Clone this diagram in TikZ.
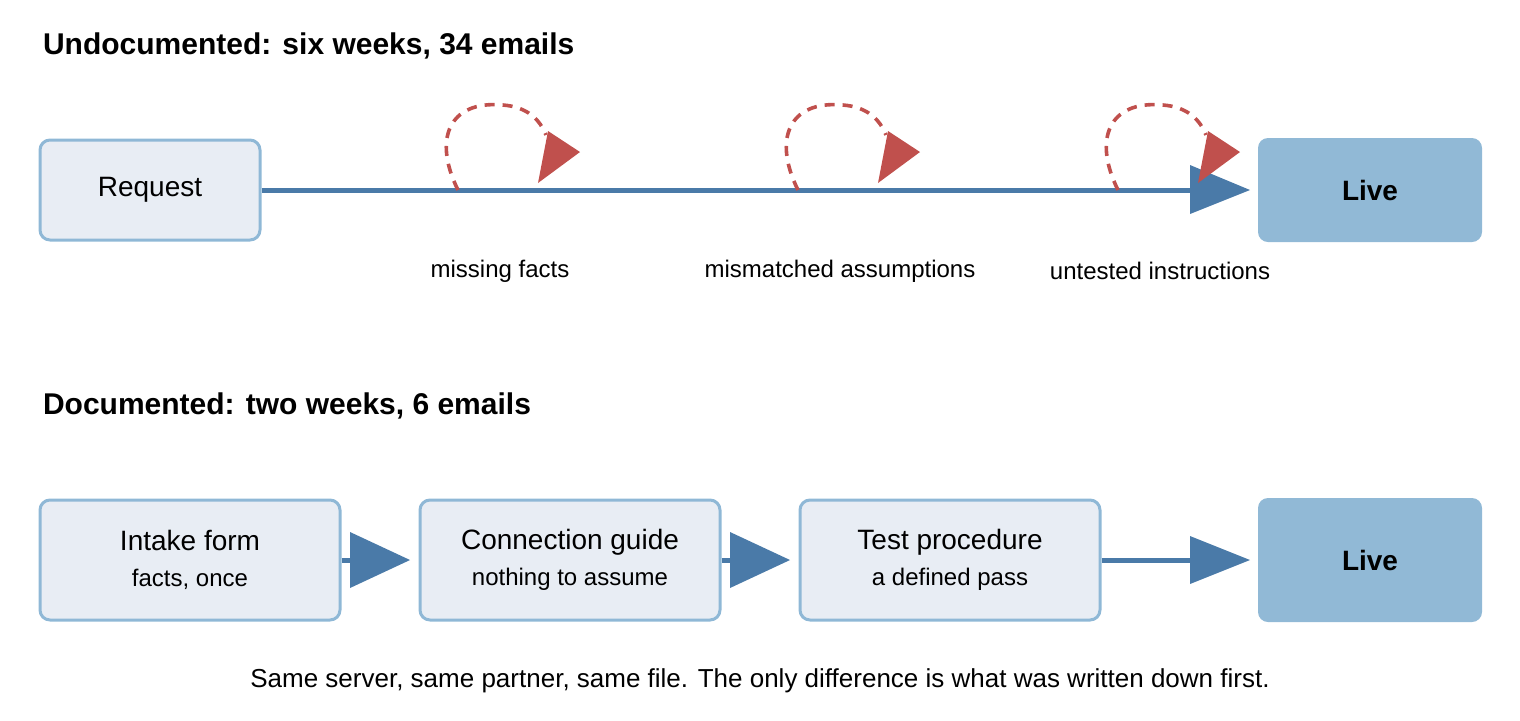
\documentclass[tikz,border=0pt]{standalone}
\usepackage{fontspec}
\setmainfont{Liberation Sans}
\begin{document}
\begin{tikzpicture}[x=0.5pt,y=-0.5pt,
  box/.style={draw=bd,fill=lf,line width=1.5pt,rounded corners=5pt,font=\fontsize{14}{16}\selectfont,align=center,inner sep=0pt},
  live/.style={fill=dk,rounded corners=5pt,font=\bfseries\fontsize{14}{16}\selectfont,inner sep=0pt},
  flow/.style={draw=bl,line width=2.5pt},
  tip/.style={fill=bl},
  loop/.style={draw=rd,line width=1.8pt,dash pattern=on 5pt off 4pt},
  lbl/.style={font=\fontsize{12}{14}\selectfont},
  ttl/.style={font=\bfseries\fontsize{15}{18}\selectfont,anchor=west}]
\definecolor{bd}{HTML}{8FB8D6}\definecolor{lf}{HTML}{E8EDF4}\definecolor{dk}{HTML}{91B9D6}
\definecolor{bl}{HTML}{4A7AA8}\definecolor{rd}{HTML}{C0504D}
\useasboundingbox (0,0) rectangle (1520,720);
\node[ttl] at (36,46) {Undocumented: six weeks, 34 emails};
\node[ttl] at (36,406) {Documented: two weeks, 6 emails};
\node[box,minimum width=110pt,minimum height=50pt] (req) at (150,190) {Request};
\node[live,minimum width=112pt,minimum height=52pt] (live1) at (1370,190) {Live};
\coordinate (e1) at (1192,190);
\draw[flow] (req.east) -- (e1);
\fill[tip] (1250,190) -- (1190,165) -- (1190,214) -- cycle;
\foreach \s in {458,798,1118}{
  \draw[loop] (\s,190) .. controls (\s-25,140) and (\s-10,100) .. (\s+45,105) .. controls (\s+70,107) and (\s+82,120) .. (\s+88,135);
  \fill[rd] (\s+122,152) -- (\s+90,131) -- (\s+80,183) -- cycle;
}
\node[lbl] at (500,271) {missing facts};
\node[lbl] at (840,271) {mismatched assumptions};
\node[lbl] at (1160,271) {untested instructions};
\node[box,minimum width=150pt,minimum height=60pt] (a) at (190,560) {Intake form\\[2pt]{\fontsize{12}{14}\selectfont facts, once}};
\node[box,minimum width=150pt,minimum height=60pt] (b) at (570,560) {Connection guide\\[2pt]{\fontsize{12}{14}\selectfont nothing to assume}};
\node[box,minimum width=150pt,minimum height=60pt] (c) at (950,560) {Test procedure\\[2pt]{\fontsize{12}{14}\selectfont a defined pass}};
\node[live,minimum width=112pt,minimum height=62pt] (live2) at (1370,560) {Live};
\draw[flow] (a.east) -- (352,560);
\fill[tip] (410,560) -- (350,532) -- (350,588) -- cycle;
\draw[flow] (b.east) -- (732,560);
\fill[tip] (790,560) -- (730,532) -- (730,588) -- cycle;
\draw[flow] (c.east) -- (1192,560);
\fill[tip] (1250,560) -- (1190,536) -- (1190,584) -- cycle;
\node[font=\fontsize{13}{15}\selectfont] at (760,681) {Same server, same partner, same file. The only difference is what was written down first.};
\end{tikzpicture}
\end{document}
